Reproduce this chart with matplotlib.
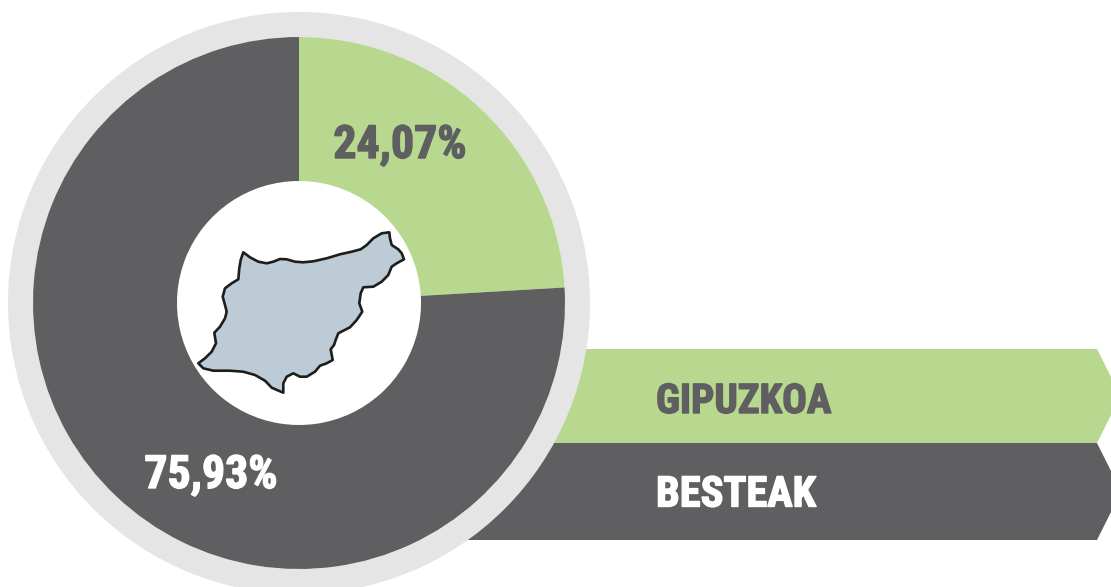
import matplotlib
matplotlib.use("Agg")
import matplotlib.pyplot as plt
import matplotlib.patheffects as pe
from matplotlib.patches import Circle, Polygon

W, H = 1111, 587

# shares of the donut
labels = ["GIPUZKOA", "BESTEAK"]
shares = [24.07, 75.93]
pct_labels = ["24,07%", "75,93%"]
colors = ["#b7d88e", "#5f5f61"]
text_colors = ["#5f5f61", "#ffffff"]

# outline of the province, traced in picture pixels
map_x = [243.3, 250, 258.3, 266.7, 273.3, 280, 286.7, 295, 303.3, 313.3, 326.7, 340, 351.7, 360.7,
         366.7, 373.3, 381.7, 389.3, 390, 391.7, 398.3, 401.7, 404, 396.7, 391.7, 388.3, 381.7,
         373.3, 363.3, 360.7, 359.3, 362.3, 356.7, 350, 338.3, 335.7, 334, 330.7, 332.7, 326.7,
         320, 315, 306.7, 300, 293.3, 286.7, 283.3, 283.3, 271.7, 265, 255, 243.3, 230, 213.3,
         203.3, 198.3, 205, 211.7, 216, 214.3, 220, 225, 226.7, 225, 222.7, 225, 231.7, 238.3,
         239.3, 240.7]
map_y = [252.3, 257.3, 261.7, 263.3, 261.7, 259, 259.3, 261.7, 262.3, 261.3, 258.3, 254.3, 251.7,
         249.3, 245, 238.3, 233.3, 232.3, 238.3, 245, 249.3, 253.3, 259.3, 263.3, 266.7, 275,
         281.7, 286.7, 287.3, 293.3, 303.3, 311.7, 320, 327.3, 333.3, 340, 345, 349.3, 360, 363.3,
         365.7, 371.7, 376.7, 376.7, 373.3, 376.7, 383.3, 392.7, 387.7, 380.7, 375, 371.7, 370.7,
         370.7, 368.3, 363.3, 358.3, 351.7, 343.3, 332.7, 326.7, 318.3, 311.7, 305, 296.7, 288.3,
         283.3, 279.3, 268.3, 260]

fig = plt.figure(figsize=(W / 100, H / 100), dpi=100)
ax = fig.add_axes([0, 0, 1, 1])

cx, cy = 299, H - 303
font = ["Roboto Condensed", "DejaVu Sans"]

# ribbons behind the donut
tops = [349, 443]
bottoms = [443, 540]
for top, bot, col in zip(tops, bottoms, colors):
    mid = (top + bot) / 2
    pts = [(300, H - top), (1097, H - top), (1097 + (bot - top) / 4, H - mid), (1097, H - bot), (300, H - bot)]
    ax.add_patch(Polygon(pts, closed=True, facecolor=col, edgecolor="none", zorder=1))

ax.add_patch(Circle((cx, cy), 291, facecolor="#e5e5e5", edgecolor="none", zorder=2))
ax.add_patch(Circle((cx, cy), 266, facecolor="white", edgecolor="none", zorder=2))

wedges, _ = ax.pie(shares, colors=colors, startangle=90, counterclock=False, center=(cx, cy),
                   radius=266, wedgeprops={"width": 144, "linewidth": 0})
for w in wedges:
    w.set_zorder(3)

ax.add_patch(Polygon(list(zip(map_x, [H - y for y in map_y])), closed=True, facecolor="#bccbd5",
                     edgecolor="#1d1d1b", linewidth=1.9, joinstyle="round", zorder=4))

ax.set_xlim(0, W)
ax.set_ylim(0, H)
ax.set_aspect("auto")
ax.axis("off")


def label(x, y, s, col, size, ha):
    t = ax.text(x, H - y, s, color=col, fontsize=size, fontweight="bold", family=font,
                ha=ha, va="center", zorder=5)
    # the original face is heavier than Roboto Condensed Bold
    t.set_path_effects([pe.withStroke(linewidth=1.0, foreground=col)])


label(400, 145, pct_labels[0], text_colors[0], 33, "center")
label(211, 475, pct_labels[1], text_colors[1], 33, "center")
label(656, 402, labels[0], text_colors[0], 29.5, "left")
label(656, 495, labels[1], text_colors[1], 30.5, "left")

fig.savefig("out.png", dpi=100)
